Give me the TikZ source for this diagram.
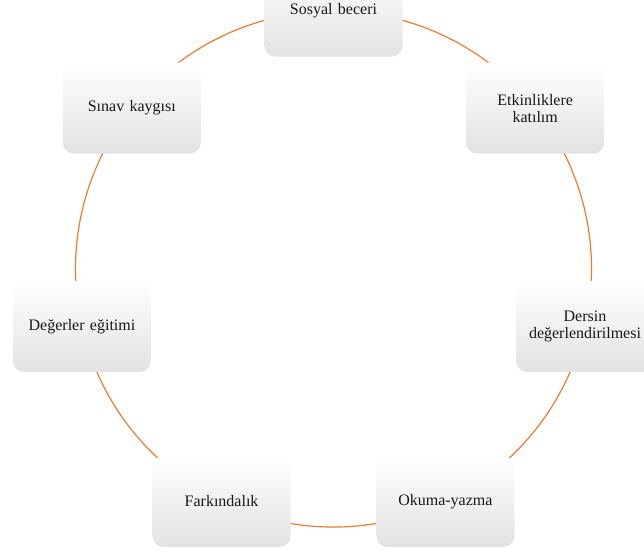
\documentclass[tikz,border=0pt]{standalone}
\usepackage{fontspec}
\setmainfont{Liberation Serif}
\usetikzlibrary{backgrounds}
\definecolor{arcorange}{RGB}{237,125,49}
\definecolor{boxgray}{RGB}{226,226,226}
\begin{document}
\begin{tikzpicture}[x=1pt,y=-1pt,
  item/.style={shade, top color=white, middle color=white, bottom color=boxgray,
    rounded corners=11pt, minimum width=138pt, minimum height=91pt,
    align=center, text width=134pt, inner sep=2pt,
    font=\fontsize{16}{17}\selectfont, text=black!90},
  link/.style={draw=arcorange, line width=1.2pt, bend left=25.714, looseness=0.9}]
\path[use as bounding box, clip] (0,0) rectangle (644,554);
\node[item] (S) at (333.5,11)    {Sosyal beceri};
\node[item] (E) at (535.2,108.1) {Etkinliklere\\katılım};
\node[item] (D) at (585.0,326.4) {Dersin\\değerlendirilmesi};
\node[item] (O) at (445.4,501.5) {Okuma-yazma};
\node[item] (F) at (221.6,501.5) {Farkındalık};
\node[item] (G) at (82.0,326.4)  {Değerler eğitimi};
\node[item] (K) at (131.8,108.1) {Sınav kaygısı};
\begin{pgfonlayer}{background}
\draw[link] (S.center) to (E.center);
\draw[link] (E.center) to (D.center);
\draw[link] (D.center) to (O.center);
\draw[link] (O.center) to (F.center);
\draw[link] (F.center) to (G.center);
\draw[link] (G.center) to (K.center);
\draw[link] (K.center) to (S.center);
\end{pgfonlayer}
\end{tikzpicture}
\end{document}
